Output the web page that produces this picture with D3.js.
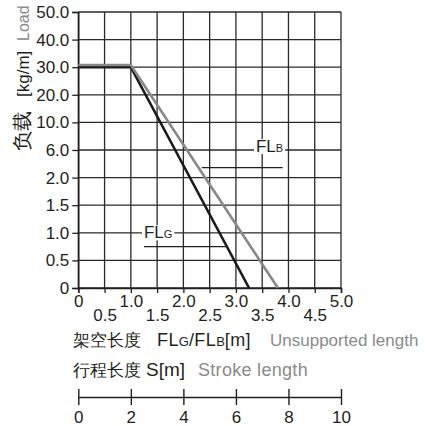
<!DOCTYPE html>
<html><head><meta charset="utf-8">
<script src="https://cdn.jsdelivr.net/npm/d3@7/dist/d3.min.js"></script>
<style>
body{margin:0;background:#fff;}
svg{display:block;font-family:"Liberation Sans",Arial,Helvetica,sans-serif;}
</style></head>
<body><svg id="c" width="425" height="426"></svg>
<script>
// ---- data ----
const xTicks = [0,0.5,1.0,1.5,2.0,2.5,3.0,3.5,4.0,4.5,5.0];
const xTickLabels = ["0","0.5","1.0","1.5","2.0","2.5","3.0","3.5","4.0","4.5","5.0"];
const yTicks = [0,0.5,1.0,1.5,2.0,6.0,10.0,20.0,30.0,40.0,50.0];
const yTickLabels = ["0","0.5","1.0","1.5","2.0","6.0","10.0","20.0","30.0","40.0","50.0"];
const strokeTicks = [0,2,4,6,8,10];
const flgX = [0, 1.0, 3.25];
const flgY = [30, 30, 0];
const flbX = [0, 1.0, 3.8];
const flbY = [30.8, 30.8, 0];
// annotations in data units: label center x, label value y, leader from x0 to x1 at value ly
const annFLB = {main:"FL", sub:"B", x:3.64, y:5.7, lx0:2.35, lx1:3.89, ly:3.44};
const annFLG = {main:"FL", sub:"G", x:1.52, y:0.9, lx0:1.25, lx1:2.82, ly:0.75};

// ---- layout ----
const L = 78.3, R = 341, T = 12, B = 288;
const dark = "#231f20", grey = "#8a8a8a";
const svg = d3.select("#c");

const x = d3.scaleLinear().domain([0,5]).range([L,R]);
const step = (B - T) / (yTicks.length - 1);
const y = d3.scaleLinear().domain(yTicks).range(yTicks.map((d,i)=>B - i*step));
const s = d3.scaleLinear().domain([0,10]).range([L,R]);

// grid
const g = svg.append("g");
g.selectAll("line.v").data(xTicks).join("line")
  .attr("x1",d=>x(d)).attr("x2",d=>x(d)).attr("y1",T).attr("y2",B)
  .attr("stroke","#2a2a2a").attr("stroke-width",1.3);
g.selectAll("line.h").data(yTicks).join("line")
  .attr("x1",L).attr("x2",R).attr("y1",d=>y(d)).attr("y2",d=>y(d))
  .attr("stroke","#2a2a2a").attr("stroke-width",1.3);

// axes
const ya = svg.append("g").attr("transform",`translate(${L},0)`)
  .call(d3.axisLeft(y).tickValues(yTicks).tickFormat((d,i)=>yTickLabels[i]).tickSize(6).tickPadding(3));
ya.select(".domain").attr("stroke",dark).attr("stroke-width",1.5);
ya.selectAll(".tick line").attr("stroke",dark).attr("stroke-width",1.3);
ya.selectAll(".tick text").attr("fill",dark).attr("font-size",17).attr("font-family","Liberation Sans, Arial, sans-serif");

const xa = svg.append("g").attr("transform",`translate(0,${B})`)
  .call(d3.axisBottom(x).tickValues(xTicks).tickFormat((d,i)=>xTickLabels[i]).tickSize(5).tickPadding(4));
xa.select(".domain").attr("stroke",dark).attr("stroke-width",1.5);
xa.selectAll(".tick line").attr("stroke",dark).attr("stroke-width",1.3);
xa.selectAll(".tick text").attr("fill",dark).attr("font-size",17).attr("font-family","Liberation Sans, Arial, sans-serif")
  .attr("dy",0).attr("y",(d,i)=> i%2===0 ? 19 : 33);

// series lines
const line = d3.line().x(d=>x(d[0])).y(d=>y(d[1]));
svg.append("path").datum(d3.zip(flgX,flgY)).attr("d",line)
  .attr("fill","none").attr("stroke","#1a1a1a").attr("stroke-width",2.6);
svg.append("path").datum(d3.zip(flbX,flbY)).attr("d",line)
  .attr("fill","none").attr("stroke","#888").attr("stroke-width",2.6);

// annotations
function ann(a){
  const gg = svg.append("g");
  svg.append("line").attr("x1",x(a.lx0)).attr("x2",x(a.lx1)).attr("y1",y(a.ly)).attr("y2",y(a.ly))
    .attr("stroke",dark).attr("stroke-width",1.2);
  const t = gg.append("text").attr("x",x(a.x)).attr("y",y(a.y)).attr("text-anchor","middle")
    .attr("fill",dark).attr("font-size",17);
  t.append("tspan").text(a.main);
  t.append("tspan").attr("font-size",11).text(a.sub);
  const bb = t.node().getBBox();
  gg.insert("rect","text").attr("x",bb.x-2).attr("y",bb.y+2).attr("width",bb.width+4).attr("height",bb.height-4).attr("fill","#fff");
}
ann(annFLB); ann(annFLG);

// y title
const yt = svg.append("text").attr("transform","translate(29,151) rotate(-90)").attr("font-size",17).attr("fill",dark);
yt.append("tspan").attr("x",0).attr("font-size",20).text("负载");
yt.append("tspan").attr("x",54).text("[kg/m]");
yt.append("tspan").attr("x",110).attr("fill",grey).attr("font-size",16).text("Load");

// x titles
const t1 = svg.append("text").attr("y",346).attr("font-size",17).attr("fill",dark);
t1.append("tspan").attr("x",73).text("架空长度");
t1.append("tspan").attr("x",157).attr("font-size",18).attr("letter-spacing",0.4).text("FL");
t1.append("tspan").attr("font-size",13).text("G");
t1.append("tspan").attr("font-size",18).attr("letter-spacing",0.4).text("/FL");
t1.append("tspan").attr("font-size",13).text("B");
t1.append("tspan").attr("font-size",18).attr("letter-spacing",0.4).text("[m]");
t1.append("tspan").attr("x",270).attr("fill",grey).text("Unsupported length");

const t2 = svg.append("text").attr("y",376).attr("font-size",17).attr("fill",dark);
t2.append("tspan").attr("x",73).text("行程长度");
t2.append("tspan").attr("x",146).attr("font-size",19).text("S[m]");
t2.append("tspan").attr("x",198).attr("fill",grey).attr("font-size",18).attr("letter-spacing",0.3).text("Stroke length");

// stroke axis
const sa = svg.append("g").attr("transform","translate(0,397)")
  .call(d3.axisBottom(s).tickValues(strokeTicks).tickFormat(d3.format("d")).tickSize(8).tickSizeOuter(0).tickPadding(6));
sa.select(".domain").attr("stroke",dark).attr("stroke-width",1.5);
sa.selectAll(".tick line").attr("stroke",dark).attr("stroke-width",1.4).attr("y1",-8);
sa.selectAll(".tick text").attr("fill",dark).attr("font-size",17).attr("font-family","Liberation Sans, Arial, sans-serif");
</script></body></html>
